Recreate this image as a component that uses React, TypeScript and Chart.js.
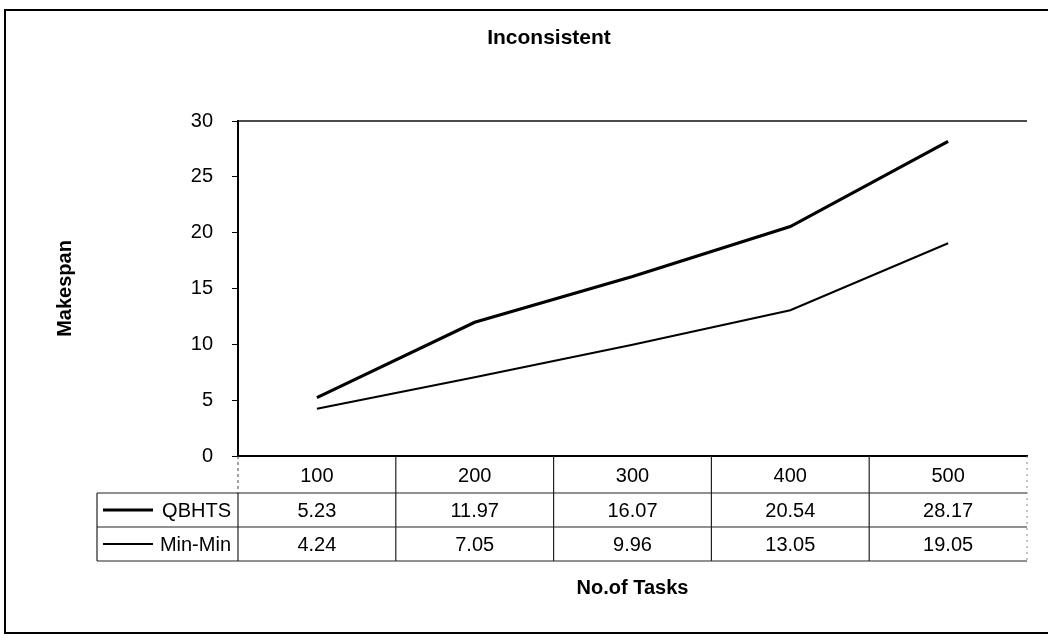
import React, { useEffect, useRef } from 'react';
import { Chart, registerables } from 'chart.js';

Chart.register(...registerables);

const categories = ['100', '200', '300', '400', '500'];
const qbhtsValues = [5.23, 11.97, 16.07, 20.54, 28.17];
const minMinValues = [4.24, 7.05, 9.96, 13.05, 19.05];
const seriesNames = ['QBHTS', 'Min-Min'];
const chartTitle = 'Inconsistent';
const xTitle = 'No.of Tasks';
const yTitle = 'Makespan';

const FONT = "'Liberation Sans', Arial, Helvetica, sans-serif";

const tablePlugin = {
  id: 'dataTableAndFrame',
  beforeDraw(chart: any) {
    const { ctx, width, height } = chart;
    ctx.save();
    ctx.fillStyle = '#ffffff';
    ctx.fillRect(0, 0, width, height);
    ctx.restore();
  },
  afterDraw(chart: any) {
    const { ctx, chartArea, scales } = chart;
    const xs = scales.x;
    const left = chartArea.left;
    const right = chartArea.right;
    const axisY = chartArea.bottom;
    const n = categories.length;
    const colW = (right - left) / n;
    const headerBottom = axisY + 37;
    const row1Bottom = headerBottom + 34;
    const row2Bottom = row1Bottom + 34;
    const legendLeft = 97;

    ctx.save();
    // outer frame
    ctx.strokeStyle = '#000';
    ctx.lineWidth = 2;
    ctx.strokeRect(5, 10, 1070, 623);

    // main title
    ctx.fillStyle = '#000';
    ctx.font = `bold 21px ${FONT}`;
    ctx.textAlign = 'center';
    ctx.textBaseline = 'middle';
    ctx.fillText(chartTitle, 549, 38);

    // plot top frame line
    ctx.lineWidth = 1.5;
    ctx.strokeStyle = '#111';
    ctx.beginPath();
    ctx.moveTo(left, chartArea.top);
    ctx.lineTo(right, chartArea.top);
    ctx.stroke();

    // table horizontal lines
    ctx.lineWidth = 1.2;
    ctx.strokeStyle = '#222';
    [headerBottom, row1Bottom, row2Bottom].forEach((y) => {
      ctx.beginPath();
      ctx.moveTo(legendLeft, y);
      ctx.lineTo(right, y);
      ctx.stroke();
    });
    // legend column left edge
    ctx.beginPath();
    ctx.moveTo(legendLeft, headerBottom);
    ctx.lineTo(legendLeft, row2Bottom);
    ctx.stroke();
    // left edge of value cells
    ctx.beginPath();
    ctx.moveTo(left, headerBottom);
    ctx.lineTo(left, row2Bottom);
    ctx.stroke();
    // column separators
    for (let i = 0; i < n - 1; i++) {
      const bx = xs.getPixelForValue(i) + colW / 2;
      ctx.beginPath();
      ctx.moveTo(bx, axisY);
      ctx.lineTo(bx, row2Bottom);
      ctx.stroke();
    }
    // dashed continuation of y axis through header row
    ctx.setLineDash([3, 3]);
    ctx.strokeStyle = '#444';
    ctx.lineWidth = 1;
    ctx.beginPath();
    ctx.moveTo(left, axisY);
    ctx.lineTo(left, headerBottom);
    ctx.stroke();
    // faint right edge
    ctx.strokeStyle = '#888';
    ctx.setLineDash([2, 4]);
    ctx.beginPath();
    ctx.moveTo(right, axisY);
    ctx.lineTo(right, row2Bottom);
    ctx.stroke();
    ctx.setLineDash([]);

    // text
    ctx.fillStyle = '#000';
    ctx.font = `20px ${FONT}`;
    ctx.textAlign = 'center';
    ctx.textBaseline = 'middle';
    const headerMid = (axisY + headerBottom) / 2 + 2;
    const row1Mid = (headerBottom + row1Bottom) / 2 + 1;
    const row2Mid = (row1Bottom + row2Bottom) / 2 + 1;
    const rowsMid = [row1Mid, row2Mid];
    categories.forEach((c, i) => {
      ctx.fillText(c, xs.getPixelForValue(i), headerMid);
    });
    chart.data.datasets.forEach((ds: any, di: number) => {
      ds.data.forEach((v: number, i: number) => {
        ctx.fillText(v.toFixed(2), xs.getPixelForValue(i), rowsMid[di]);
      });
    });

    // legend keys
    chart.data.datasets.forEach((ds: any, di: number) => {
      const y = rowsMid[di] - 1;
      ctx.strokeStyle = ds.borderColor;
      ctx.lineWidth = ds.borderWidth;
      ctx.beginPath();
      ctx.moveTo(103, y);
      ctx.lineTo(153, y);
      ctx.stroke();
      ctx.textAlign = 'right';
      ctx.fillStyle = '#000';
      ctx.fillText(ds.label, 231, rowsMid[di]);
    });
    ctx.restore();
  },
};

export default function App() {
  const ref = useRef<HTMLCanvasElement>(null);
  useEffect(() => {
    const canvas = ref.current;
    if (!canvas) return;
    const chart = new Chart(canvas, {
      type: 'line',
      data: {
        labels: categories,
        datasets: [
          {
            label: seriesNames[0],
            data: qbhtsValues,
            borderColor: '#000',
            borderWidth: 3.2,
            pointRadius: 0,
            tension: 0,
            fill: false,
          },
          {
            label: seriesNames[1],
            data: minMinValues,
            borderColor: '#000',
            borderWidth: 2,
            pointRadius: 0,
            tension: 0,
            fill: false,
          },
        ],
      },
      options: {
        responsive: false,
        animation: false,
        devicePixelRatio: 1,
        layout: { padding: { left: 0, right: 21, top: 121, bottom: 0 } },
        plugins: {
          legend: { display: false },
          title: { display: false },
          tooltip: { enabled: false },
        },
        scales: {
          x: {
            type: 'category',
            offset: true,
            ticks: { display: false },
            grid: { display: false, drawTicks: false },
            border: { display: true, color: '#000', width: 2 },
            title: {
              display: true,
              text: xTitle,
              color: '#000',
              font: { family: FONT, size: 20, weight: 'bold' },
              padding: { top: 0, bottom: 40 },
            },
            afterFit: (s: any) => {
              s.height = 184;
            },
          },
          y: {
            min: 0,
            max: 30,
            ticks: {
              stepSize: 5,
              color: '#000',
              font: { family: FONT, size: 20 },
              padding: 19,
            },
            grid: {
              drawOnChartArea: false,
              drawTicks: true,
              tickLength: 6,
              color: '#000',
            },
            border: { display: true, color: '#000', width: 2 },
            title: {
              display: true,
              text: yTitle,
              color: '#000',
              font: { family: FONT, size: 20, weight: 'bold' },
              padding: { top: 53, bottom: 0 },
            },
            afterFit: (s: any) => {
              s.width = 238;
            },
          },
        },
      } as any,
      plugins: [tablePlugin],
    });
    return () => chart.destroy();
  }, []);

  return (
    <div style={{ position: 'fixed', left: 0, top: 0, width: 1048, height: 640, background: '#fff' }}>
      <canvas ref={ref} width={1048} height={640} style={{ display: 'block', width: 1048, height: 640 }} />
    </div>
  );
}
